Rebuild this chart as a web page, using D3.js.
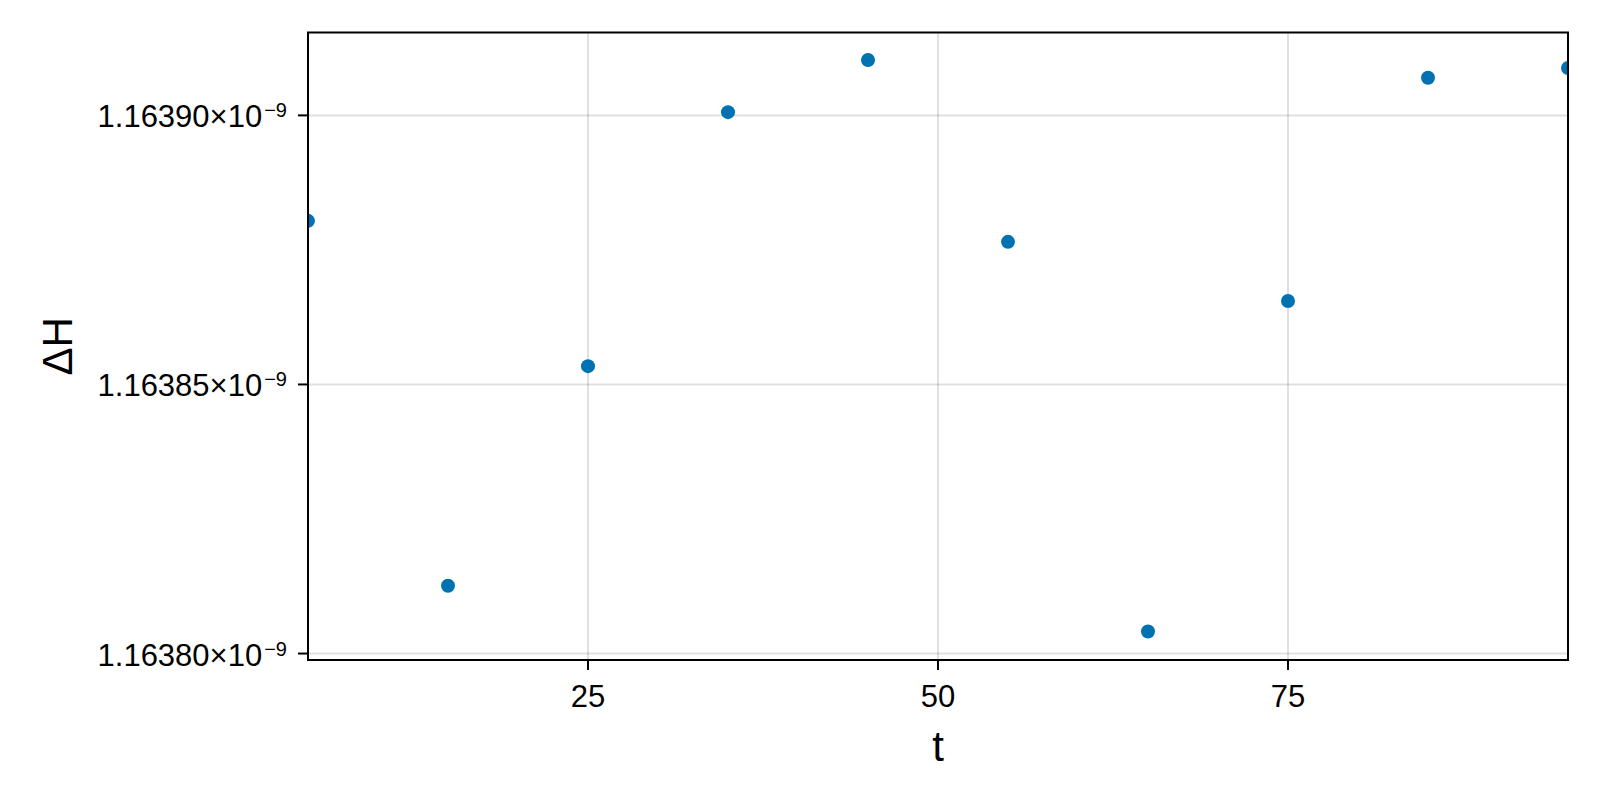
<!DOCTYPE html>
<html>
<head>
<meta charset="utf-8">
<script src="https://cdn.jsdelivr.net/npm/d3@7"></script>
<style>
  html, body { margin: 0; padding: 0; background: #fff; }
  svg { display: block; }
  text { font-family: "Liberation Sans", Arial, Helvetica, sans-serif; fill: #000; }
</style>
</head>
<body>
<svg id="chart" width="1600" height="800"></svg>
<script>
// Data (values in units of 1e-9)
const tValues = [5, 15, 25, 35, 45, 55, 65, 75, 85, 95];
const dHValues = [1.1638804, 1.1638126, 1.1638534, 1.1639006, 1.1639103,
                  1.1638765, 1.1638041, 1.1638655, 1.1639070, 1.1639088];
const xTicks = [25, 50, 75];
const yTicks = [1.16380, 1.16385, 1.16390];
const yTickLabels = ["1.16380", "1.16385", "1.16390"];
const yExponent = "\u22129";
const xLabel = "t";
const yLabel = "\u0394H";

const svg = d3.select("#chart");
const pL = 308, pR = 1568, pT = 32.5, pB = 660;

const x = d3.scaleLinear().domain([5, 95]).range([pL, pR]);
const y = d3.scaleLinear().domain([1.1637988, 1.1639154]).range([pB, pT]);

// Grid
const grid = svg.append("g");
grid.selectAll("line.vx").data(xTicks).join("line")
  .attr("x1", d => x(d)).attr("x2", d => x(d))
  .attr("y1", pT).attr("y2", pB)
  .attr("stroke", "rgba(0,0,0,0.12)").attr("stroke-width", 2);
grid.selectAll("line.hy").data(yTicks).join("line")
  .attr("x1", pL).attr("x2", pR)
  .attr("y1", d => y(d)).attr("y2", d => y(d))
  .attr("stroke", "rgba(0,0,0,0.12)").attr("stroke-width", 2);

// Points (clipped)
svg.append("clipPath").attr("id", "clip").append("rect")
  .attr("x", pL).attr("y", pT).attr("width", pR - pL).attr("height", pB - pT);
svg.append("g").attr("clip-path", "url(#clip)")
  .selectAll("circle").data(tValues.map((t, i) => [t, dHValues[i]])).join("circle")
  .attr("cx", d => x(d[0])).attr("cy", d => y(d[1])).attr("r", 7)
  .attr("fill", "rgb(0,114,178)");

// Spines
svg.append("rect").attr("x", pL).attr("y", pT)
  .attr("width", pR - pL).attr("height", pB - pT)
  .attr("fill", "none").attr("stroke", "#000").attr("stroke-width", 2);

// X axis ticks
const xa = svg.append("g");
xa.selectAll("line").data(xTicks).join("line")
  .attr("x1", d => x(d)).attr("x2", d => x(d))
  .attr("y1", pB).attr("y2", pB + 10)
  .attr("stroke", "#000").attr("stroke-width", 2);
xa.selectAll("text").data(xTicks).join("text")
  .attr("x", d => x(d)).attr("y", pB + 47)
  .attr("text-anchor", "middle").attr("font-size", 31)
  .text(d => d);

// Y axis ticks
const ya = svg.append("g");
ya.selectAll("line").data(yTicks).join("line")
  .attr("x1", pL - 10).attr("x2", pL)
  .attr("y1", d => y(d)).attr("y2", d => y(d))
  .attr("stroke", "#000").attr("stroke-width", 2);
const yt = ya.selectAll("text").data(yTicks).join("text")
  .attr("x", pL - 21).attr("y", d => y(d) + 12)
  .attr("text-anchor", "end").attr("font-size", 31);
yt.append("tspan").text((d, i) => yTickLabels[i] + "\u00d710");
yt.append("tspan").attr("font-size", 20).attr("dx", 2).attr("dy", -10).text(yExponent);

// Axis labels
svg.append("text").attr("x", (pL + pR) / 2).attr("y", 761)
  .attr("text-anchor", "middle").attr("font-size", 42).text(xLabel);
svg.append("text")
  .attr("transform", `translate(72,${(pT + pB) / 2}) rotate(-90)`)
  .attr("text-anchor", "middle").attr("font-size", 42).text(yLabel);
</script>
</body>
</html>
